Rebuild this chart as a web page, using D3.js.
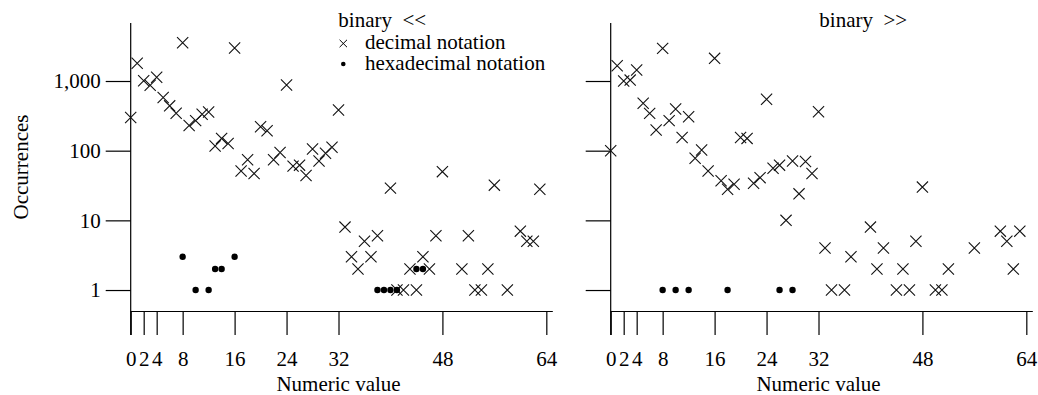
<!DOCTYPE html>
<html>
<head>
<meta charset="utf-8">
<script src="https://cdn.jsdelivr.net/npm/d3@7"></script>
<style>
  html, body { margin: 0; padding: 0; background: #fff; }
  svg { display: block; }
  text { font-family: "Liberation Serif", "Times New Roman", serif; fill: #000; }
</style>
</head>
<body>
<svg id="chart" width="1038" height="395"></svg>
<script>
// ---------- data ----------
const xTicks = [0, 2, 4, 8, 16, 24, 32, 48, 64];
const yTicks = [1, 10, 100, 1000];
const yTickLabels = ["1", "10", "100", "1,000"];
const panelTitles = ["binary  <<", "binary  >>"];
const legendLabels = ["decimal notation", "hexadecimal notation"];
const xLabel = "Numeric value";
const yLabel = "Occurrences";

// binary << , decimal notation
const shlDecX = [0,1,2,3,4,5,6,7,8,9,10,11,12,13,14,15,16,17,18,19,20,21,22,23,24,25,26,27,28,29,30,31,32,
                 33,34,35,36,37,38,40,41,42,43,44,45,46,47,48,51,52,53,54,55,56,58,60,61,62,63];
const shlDecY = [300,1800,1010,870,1130,580,440,345,3550,230,270,333,360,117,150,127,2980,51,74,47,221,193,74,94,875,60,62,44,106,71,92,112,384,
                 8,3,2,5,3,6,29,1,1,2,1,3,2,6,50,2,6,1,1,2,32,1,7,5,5,28];
// binary << , hexadecimal notation
const shlHexX = [8,10,12,13,14,16,38,39,40,41,44,45];
const shlHexY = [3,1,1,2,2,3,1,1,1,1,2,2];

// binary >> , decimal notation
const shrDecX = [0,1,2,3,4,5,6,7,8,9,10,11,12,13,14,15,16,17,18,19,20,21,22,23,24,25,26,27,28,29,30,31,32,
                 33,34,36,37,40,41,42,44,45,46,47,48,50,51,52,56,60,61,62,63];
const shrDecY = [100,1660,1000,1030,1440,480,343,198,2940,270,396,155,307,78,102,51,2115,37,28,33,155,150,34,41,546,56,62,10,71,24,70,47,363,
                 4,1,1,3,8,2,4,1,2,1,5,30,1,1,2,4,7,5,2,7];
// binary >> , hexadecimal notation
const shrHexX = [8,10,12,18,26,28];
const shrHexY = [1,1,1,1,1,1];

const panels = [
  { dx: shlDecX, dy: shlDecY, hx: shlHexX, hy: shlHexY, title: panelTitles[0], x0: 130.7, labels: true, legend: true, titleX: 338.3 },
  { dx: shrDecX, dy: shrDecY, hx: shrHexX, hy: shrHexY, title: panelTitles[1], x0: 610.7, labels: false, legend: false, titleX: 819.3 }
];

// ---------- drawing ----------
const svg = d3.select("#chart");
const FS = 21;
const unit = 6.494;
const yScale = d3.scaleLog().domain([0.5, 6800]).range([311, 23]);

panels.forEach(p => {
  const x = d3.scaleLinear().domain([0, 65]).range([p.x0, p.x0 + 65 * unit]);
  const g = svg.append("g");

  // x axis
  const xAxis = d3.axisBottom(x).tickValues(xTicks).tickSize(24).tickPadding(16)
    .tickFormat(d3.format("d"));
  const gx = g.append("g").attr("transform", "translate(0,311)").call(xAxis);
  gx.select(".domain").attr("d", `M${x(0)},0.5H${x(65)}`).attr("stroke", "#000").attr("stroke-width", 1.2);
  gx.selectAll(".tick line").attr("stroke", "#000").attr("stroke-width", 1.2);
  gx.selectAll(".tick text").attr("font-size", FS).attr("font-family", "Liberation Serif").attr("fill", "#000");

  // y axis
  const yAxis = d3.axisLeft(yScale).tickValues(yTicks).tickSize(25).tickPadding(5)
    .tickFormat((d, i) => p.labels ? yTickLabels[i] : "");
  const gy = g.append("g").attr("transform", `translate(${p.x0},0)`).call(yAxis);
  gy.select(".domain").attr("d", "M0,23V335").attr("stroke", "#000").attr("stroke-width", 1.2);
  gy.selectAll(".tick line").attr("stroke", "#000").attr("stroke-width", 1.2);
  gy.selectAll(".tick text").attr("font-size", FS).attr("font-family", "Liberation Serif").attr("fill", "#000");

  // x label
  g.append("text").attr("x", x(32)).attr("y", 391).attr("text-anchor", "middle")
    .attr("font-size", FS).text(xLabel);

  // title
  g.append("text").attr("x", p.titleX).attr("y", 27).attr("font-size", FS)
    .style("white-space", "pre").text(p.title.replace("  ", "\u00a0\u00a0"));

  // decimal points (crosses)
  const h = 5.6;
  g.append("g").selectAll("path").data(p.dx.map((v, i) => [v, p.dy[i]])).join("path")
    .attr("d", d => {
      const cx = x(d[0]), cy = yScale(d[1]);
      return `M${cx - h},${cy - h}L${cx + h},${cy + h}M${cx - h},${cy + h}L${cx + h},${cy - h}`;
    })
    .attr("stroke", "#111").attr("stroke-width", 1.1).attr("fill", "none");

  // hexadecimal points (dots)
  g.append("g").selectAll("circle").data(p.hx.map((v, i) => [v, p.hy[i]])).join("circle")
    .attr("cx", d => x(d[0])).attr("cy", d => yScale(d[1])).attr("r", 3.2).attr("fill", "#000");

  if (p.legend) {
    const lg = g.append("g");
    const lh = 3.7;
    lg.append("path")
      .attr("d", `M${343.3 - lh},${43.5 - lh}L${343.3 + lh},${43.5 + lh}M${343.3 - lh},${43.5 + lh}L${343.3 + lh},${43.5 - lh}`)
      .attr("stroke", "#000").attr("stroke-width", 1);
    lg.append("text").attr("x", 365).attr("y", 48.5).attr("font-size", FS).text(legendLabels[0]);
    lg.append("circle").attr("cx", 343.3).attr("cy", 64).attr("r", 2.3).attr("fill", "#000");
    lg.append("text").attr("x", 365).attr("y", 69.5).attr("font-size", FS).text(legendLabels[1]);
  }
});

// y label
svg.append("text").attr("transform", "translate(28,167) rotate(-90)")
  .attr("text-anchor", "middle").attr("font-size", FS).text(yLabel);
</script>
</body>
</html>
